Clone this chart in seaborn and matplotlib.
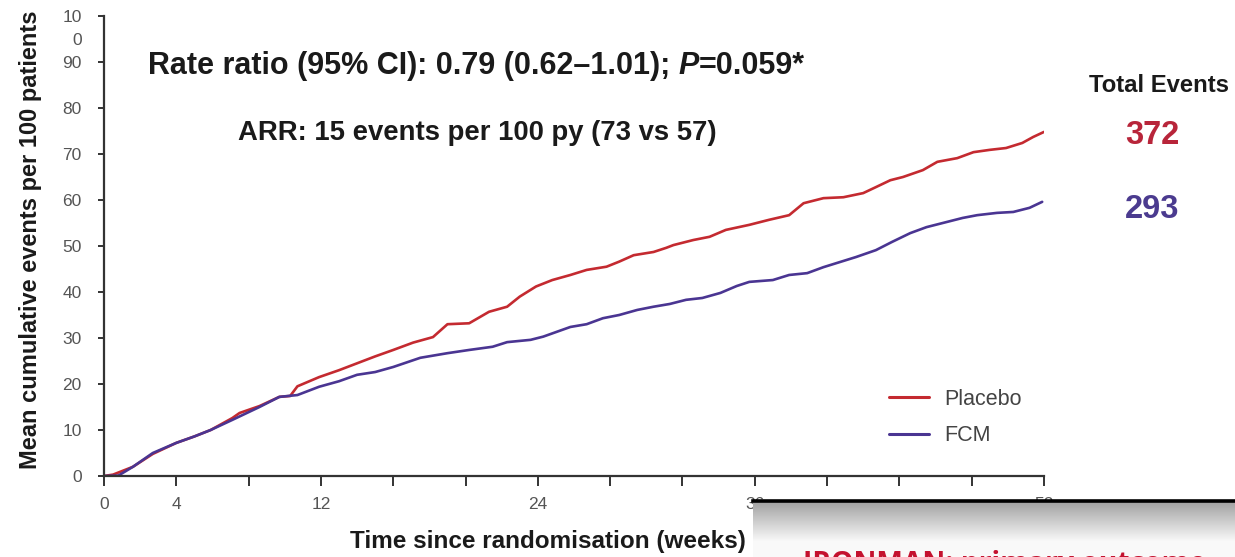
import numpy as np
import pandas as pd
import matplotlib
matplotlib.use("Agg")
import matplotlib.pyplot as plt
from matplotlib.transforms import ScaledTranslation
import seaborn as sns

# ---- data (weeks, mean cumulative events per 100 patients) ----
placebo_weeks = [0, 0.5, 1.6, 2.7, 4.0, 5.0, 5.9, 7.1, 7.5, 8.6, 9.7, 10.3, 10.7, 11.9, 13.0,
                 14.0, 15.0, 16.0, 17.1, 18.2, 19.0, 20.2, 21.3, 22.3, 23.0, 23.9, 24.8, 25.8,
                 26.7, 27.8, 28.5, 29.3, 30.4, 31.1, 31.5, 32.6, 33.5, 34.4, 35.7, 36.8, 37.9,
                 38.7, 39.8, 40.9, 42.0, 42.7, 43.5, 44.2, 45.3, 46.1, 47.2, 48.1, 49.0, 49.9,
                 50.8, 51.4, 52.0]
placebo_events = [0, 0.3, 2.0, 4.8, 7.2, 8.6, 10.0, 12.6, 13.7, 15.2, 17.2, 17.4, 19.5, 21.5, 23.0,
                  24.5, 26.0, 27.4, 29.0, 30.2, 33.0, 33.2, 35.7, 36.8, 39.0, 41.2, 42.6, 43.7,
                  44.8, 45.5, 46.6, 48.0, 48.7, 49.6, 50.2, 51.3, 52.0, 53.5, 54.6, 55.7, 56.7,
                  59.3, 60.4, 60.6, 61.5, 62.8, 64.3, 65.0, 66.5, 68.3, 69.1, 70.4, 70.9, 71.3,
                  72.4, 73.7, 74.8]
fcm_weeks = [0, 0.8, 1.6, 2.7, 4.0, 5.0, 5.9, 7.1, 8.6, 9.7, 10.7, 11.9, 13.0, 14.0, 15.0, 16.0,
             17.5, 19.0, 20.2, 21.5, 22.3, 23.6, 24.3, 24.8, 25.8, 26.7, 27.6, 28.5, 29.5, 30.4,
             31.3, 32.2, 33.1, 34.1, 35.0, 35.7, 37.0, 37.9, 38.9, 39.8, 40.7, 41.6, 42.7, 43.6,
             44.6, 45.5, 46.4, 47.5, 48.3, 49.4, 50.3, 51.2, 51.9]
fcm_events = [0, 0.1, 2.0, 5.0, 7.2, 8.6, 10.0, 12.2, 15.0, 17.2, 17.6, 19.4, 20.6, 22.0, 22.6, 23.7,
              25.7, 26.7, 27.4, 28.1, 29.1, 29.6, 30.3, 31.0, 32.4, 33.0, 34.3, 35.0, 36.1, 36.8,
              37.4, 38.3, 38.7, 39.8, 41.3, 42.2, 42.6, 43.7, 44.1, 45.4, 46.5, 47.6, 49.1, 50.9,
              52.8, 54.1, 55.0, 56.1, 56.7, 57.2, 57.4, 58.3, 59.6]
groups = ["Placebo", "FCM"]
total_events = [372, 293]
x_ticks = list(range(0, 53, 4))
x_labelled = [0, 4, 12, 24, 36, 52]
y_ticks = list(range(0, 101, 10))

RED, PURPLE = "#c42a30", "#4a3592"

df = pd.concat([
    pd.DataFrame({"week": placebo_weeks, "events": placebo_events, "group": "Placebo"}),
    pd.DataFrame({"week": fcm_weeks, "events": fcm_events, "group": "FCM"}),
])

sns.set_style("ticks")
plt.rcParams["font.family"] = ["Liberation Sans", "DejaVu Sans"]

fig = plt.figure(figsize=(12.35, 5.57), dpi=100)
W, H = 1235, 557
ax = fig.add_axes([104 / W, 1 - 476 / H, 940 / W, 460 / H])

sns.lineplot(data=df, x="week", y="events", hue="group", hue_order=groups,
             palette=[RED, PURPLE], estimator=None, sort=False, linewidth=1.9, ax=ax)

ax.set_xlim(0, 52)
ax.set_ylim(0, 100)
sns.despine(ax=ax)
for s in ("left", "bottom"):
    ax.spines[s].set_linewidth(1.6)
    ax.spines[s].set_color("#333333")

ax.set_xticks(x_ticks)
ax.set_xticklabels([str(t) if t in x_labelled else "" for t in x_ticks])
ax.set_yticks(y_ticks)
ax.set_yticklabels([str(t) for t in y_ticks[:-1]] + ["10\n0"])
ax.tick_params(axis="x", direction="out", length=7, width=1.4, color="#333333",
               labelsize=12.5, labelcolor="#555555", pad=8)
ax.tick_params(axis="y", direction="out", length=4, width=1.4, color="#333333",
               labelsize=12.5, labelcolor="#555555", pad=12)
top_lab = ax.get_yticklabels()[-1]
top_lab.set_verticalalignment("top")
top_lab.set_linespacing(1.65)
top_lab.set_transform(top_lab.get_transform() + ScaledTranslation(0, 6 / 100, fig.dpi_scale_trans))

ax.set_xlabel("Time since randomisation (weeks)", fontsize=17.5, fontweight="bold", color="#1a1a1a")
ax.xaxis.set_label_coords((548 - 104) / 940, (476 - 530) / 460)
ax.set_ylabel("Mean cumulative events per 100 patients", fontsize=17, fontweight="bold",
              color="#1a1a1a")
ax.yaxis.set_label_coords((42 - 104) / 940, (476 - 240) / 460)

leg = ax.get_legend()
handles, labels = leg.legend_handles, [t.get_text() for t in leg.texts]
ax.legend(handles, labels, loc="upper left", bbox_to_anchor=(889 / W, 1 - 389 / H),
          bbox_transform=fig.transFigure, frameon=False, fontsize=15.5, borderpad=0,
          borderaxespad=0, handlelength=1.85, handletextpad=0.7, labelspacing=0.7,
          labelcolor="#444444")
for h in ax.get_legend().legend_handles:
    h.set_linewidth(2.2)

# annotation text
y1 = 1 - 74 / H
t1 = fig.text(148 / W, y1, "Rate ratio (95% CI): 0.79 (0.62\u20131.01); ", fontsize=22,
              fontweight="bold", color="#1a1a1a", va="baseline")
fig.canvas.draw()
x2 = t1.get_window_extent().x1 / W
t2 = fig.text(x2, y1, "P", fontsize=22, fontweight="bold", style="italic", color="#1a1a1a",
              va="baseline")
fig.canvas.draw()
x3 = t2.get_window_extent().x1 / W
fig.text(x3, y1, "=0.059*", fontsize=22, fontweight="bold", color="#1a1a1a", va="baseline")
fig.text(477 / W, 1 - 133 / H, "ARR: 15 events per 100 py (73 vs 57)", fontsize=19.8,
         fontweight="bold", color="#1a1a1a", ha="center", va="center")

fig.text(1159 / W, 1 - 86 / H, "Total Events", fontsize=17.2, fontweight="bold",
         color="#1a1a1a", ha="center", va="center")
for n, yy, c in zip(total_events, [136, 209], ["#b8253a", "#4b3b8f"]):
    fig.text(1152 / W, 1 - yy / H, str(n), fontsize=23.5, fontweight="bold", color=c,
             ha="center", va="center")

# slide overlay box in the bottom right corner
ov = fig.add_axes([753 / W, 0, 1 - 753 / W, 56 / H])
grad = np.concatenate([np.linspace(0.63, 0.97, 40), np.full(16, 0.98)])
ov.imshow(np.dstack([grad[:, None]] * 3), aspect="auto", extent=(0, 1, 0, 1),
          interpolation="bilinear")
ov.set_xticks([]); ov.set_yticks([])
for s in ("left", "right", "bottom"):
    ov.spines[s].set_visible(False)
ov.spines["top"].set_linewidth(2.6)
ov.spines["top"].set_color("black")
fig.text(803 / W, -15 / H, "IRONMAN: primary outcome \u2013", fontsize=20.3, fontweight="bold",
         color="#c4122f", family=["Open Sans", "DejaVu Sans"], va="baseline")

fig.savefig("out.png", dpi=100)
